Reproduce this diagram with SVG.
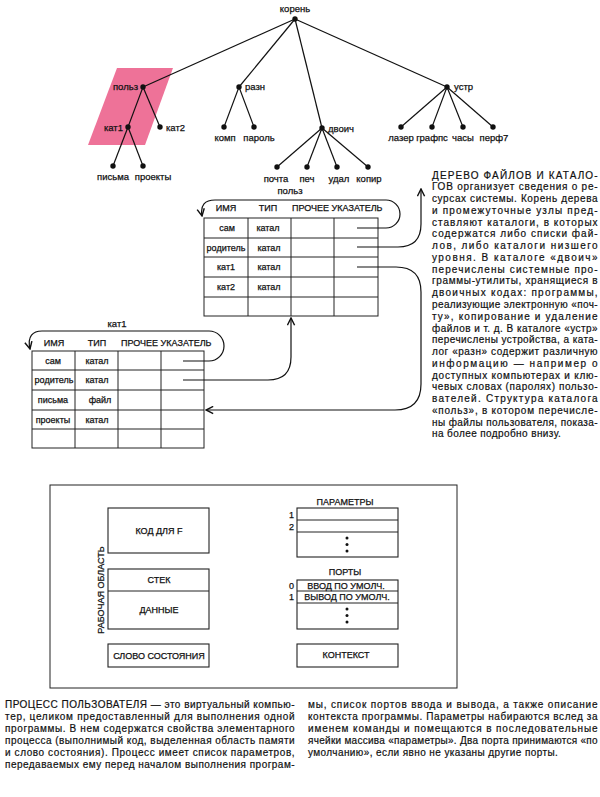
<svg xmlns="http://www.w3.org/2000/svg" width="600" height="797" viewBox="0 0 600 797">
<style>
.t{font-family:"Liberation Sans",Arial,sans-serif;font-size:9.5px;fill:#111;stroke:#111;stroke-width:0.25}
.s{font-size:9px}
.m{text-anchor:middle}
.e{text-anchor:end}
.b{font-family:"Liberation Sans",Arial,sans-serif;font-size:10px;letter-spacing:0.4px;fill:#111;stroke:#111;stroke-width:0.2}
.ln{stroke:#111;stroke-width:1.2;fill:none}
.tb{stroke:#222;stroke-width:1;fill:none}
.bx{stroke:#222;stroke-width:1.1;fill:#fff}
.dot{fill:#111}
</style>
<defs>
<marker id="arr" viewBox="0 0 10 10" refX="9" refY="5" markerWidth="9" markerHeight="9" markerUnits="userSpaceOnUse" orient="auto">
<path d="M1,1 L9,5 L1,9" fill="none" stroke="#111" stroke-width="1.6"/>
</marker>
</defs>
<rect width="600" height="797" fill="#fff"/>

<!-- highlight -->
<polygon points="117,68 173,68 145,145 88,145" fill="#ee7298"/>

<!-- tree connectors -->
<g id="tree-edges" class="ln">
<line x1="295" y1="19" x2="143" y2="87"/>
<line x1="295" y1="19" x2="239" y2="87"/>
<line x1="295" y1="19" x2="322" y2="128"/>
<line x1="295" y1="19" x2="447" y2="87"/>
<line x1="143" y1="87" x2="128" y2="127"/>
<line x1="143" y1="87" x2="160" y2="127"/>
<line x1="128" y1="127" x2="113" y2="166"/>
<line x1="128" y1="127" x2="143" y2="166"/>
<line x1="239" y1="87" x2="224" y2="127"/>
<line x1="239" y1="87" x2="254" y2="127"/>
<line x1="322" y1="128" x2="277" y2="167"/>
<line x1="322" y1="128" x2="307" y2="167"/>
<line x1="322" y1="128" x2="337" y2="167"/>
<line x1="322" y1="128" x2="368" y2="167"/>
<line x1="447" y1="87" x2="401" y2="127"/>
<line x1="447" y1="87" x2="432" y2="127"/>
<line x1="447" y1="87" x2="463" y2="127"/>
<line x1="447" y1="87" x2="493" y2="127"/>
</g>

<g id="n-root"><circle class="dot" cx="295" cy="19" r="2.7"/><text class="t m" x="295" y="12">корень</text></g>
<g id="n-polz"><circle class="dot" cx="143" cy="87" r="2.7"/><text class="t e" x="138" y="90">польз</text></g>
<g id="n-razn"><circle class="dot" cx="239" cy="87" r="2.7"/><text class="t" x="245" y="90">разн</text></g>
<g id="n-ustr"><circle class="dot" cx="447" cy="87" r="2.7"/><text class="t" x="454" y="90">устр</text></g>
<g id="n-kat1"><circle class="dot" cx="128" cy="127" r="2.7"/><text class="t e" x="123" y="131">кат1</text></g>
<g id="n-kat2"><circle class="dot" cx="160" cy="127" r="2.7"/><text class="t" x="166" y="131">кат2</text></g>
<g id="n-komp"><circle class="dot" cx="224" cy="127" r="2.7"/><text class="t m" x="225" y="141">комп</text></g>
<g id="n-parol"><circle class="dot" cx="254" cy="127" r="2.7"/><text class="t m" x="259" y="141">пароль</text></g>
<g id="n-dvoich"><circle class="dot" cx="322" cy="128" r="2.7"/><text class="t" x="328" y="132">двоич</text></g>
<g id="n-lazer"><circle class="dot" cx="401" cy="127" r="2.7"/><text class="t m" x="401" y="141">лазер</text></g>
<g id="n-grafps"><circle class="dot" cx="432" cy="127" r="2.7"/><text class="t m" x="432" y="141">графпс</text></g>
<g id="n-chasy"><circle class="dot" cx="463" cy="127" r="2.7"/><text class="t m" x="463" y="141">часы</text></g>
<g id="n-perf7"><circle class="dot" cx="493" cy="127" r="2.7"/><text class="t m" x="494" y="141">перф7</text></g>
<g id="n-pisma"><circle class="dot" cx="113" cy="166" r="2.7"/><text class="t m" x="113" y="180">письма</text></g>
<g id="n-proekty"><circle class="dot" cx="143" cy="166" r="2.7"/><text class="t m" x="153" y="180">проекты</text></g>
<g id="n-pochta"><circle class="dot" cx="277" cy="167" r="2.7"/><text class="t m" x="276" y="182">почта</text></g>
<g id="n-pech"><circle class="dot" cx="307" cy="167" r="2.7"/><text class="t m" x="307" y="182">печ</text></g>
<g id="n-udal"><circle class="dot" cx="337" cy="167" r="2.7"/><text class="t m" x="339" y="182">удал</text></g>
<g id="n-kopir"><circle class="dot" cx="368" cy="167" r="2.7"/><text class="t m" x="369" y="182">копир</text></g>

<!-- table польз -->
<g id="table-polz">
<text class="t m" x="290" y="194">польз</text>
<rect class="tb" x="204" y="218" width="174" height="98"/>
<path class="tb" d="M204,238 H378 M204,257 H378 M204,277 H378 M204,297 H378 M248,218 V316 M291,218 V316 M334,218 V316"/>
<text class="t s m" x="226" y="211">ИМЯ</text>
<text class="t s m" x="268" y="211">ТИП</text>
<text class="t s" x="292" y="211">ПРОЧЕЕ УКАЗАТЕЛЬ</text>
<text class="t s m" x="227" y="231">сам</text>
<text class="t s m" x="268" y="231">катал</text>
<text class="t s m" x="226" y="251">родитель</text>
<text class="t s m" x="269" y="251">катал</text>
<text class="t s m" x="226" y="270">кат1</text>
<text class="t s m" x="269" y="270">катал</text>
<text class="t s m" x="226" y="290">кат2</text>
<text class="t s m" x="269" y="290">катал</text>
</g>

<!-- table кат1 -->
<g id="table-kat1">
<text class="t m" x="117" y="327">кат1</text>
<rect class="tb" x="32" y="351" width="172" height="97"/>
<path class="tb" d="M32,370 H204 M32,390 H204 M32,410 H204 M32,429 H204 M75,351 V448 M118,351 V448 M161,351 V448"/>
<text class="t s m" x="54" y="346">ИМЯ</text>
<text class="t s m" x="97" y="346">ТИП</text>
<text class="t s" x="121" y="346">ПРОЧЕЕ УКАЗАТЕЛЬ</text>
<text class="t s m" x="53" y="364">сам</text>
<text class="t s m" x="97" y="364">катал</text>
<text class="t s m" x="54" y="383">родитель</text>
<text class="t s m" x="97" y="383">катал</text>
<text class="t s m" x="53" y="403">письма</text>
<text class="t s m" x="100" y="403">файл</text>
<text class="t s m" x="53" y="423">проекты</text>
<text class="t s m" x="97" y="423">катал</text>
</g>

<!-- pointers -->
<g id="pointers" class="ln">
<path d="M357,228 H386 A14,14 0 0 0 386,200 H215 C205,200 200,205 202,216" marker-end="url(#arr)"/>
<path d="M357,247 H398 Q421,247 421,224 V189" marker-end="url(#arr)"/>
<path d="M357,267 H396 Q421,267 421,292 V384 Q421,410 395,410 H206" marker-end="url(#arr)"/>
<path d="M183,361 H209 A15,15 0 0 0 209,331 H42 C33,331 27,336 30,349" marker-end="url(#arr)"/>
<path d="M183,380 H268 Q291,380 291,357 V318" marker-end="url(#arr)"/>
</g>

<!-- right text -->
<g id="text-tree" class="b">
<text x="432" y="178.5" textLength="166" lengthAdjust="spacing">ДЕРЕВО ФАЙЛОВ И КАТАЛО-</text>
<text x="432" y="190.3" textLength="166" lengthAdjust="spacing">ГОВ организует сведения о ре-</text>
<text x="432" y="202" textLength="166" lengthAdjust="spacing">сурсах системы. Корень дерева</text>
<text x="432" y="213.8" textLength="166" lengthAdjust="spacing">и промежуточные узлы пред-</text>
<text x="432" y="225.6" textLength="166" lengthAdjust="spacing">ставляют каталоги, в которых</text>
<text x="432" y="237.4" textLength="166" lengthAdjust="spacing">содержатся либо списки фай-</text>
<text x="432" y="249.1" textLength="166" lengthAdjust="spacing">лов, либо каталоги низшего</text>
<text x="432" y="260.9" textLength="166" lengthAdjust="spacing">уровня. В каталоге «двоич»</text>
<text x="432" y="272.7" textLength="166" lengthAdjust="spacing">перечислены системные про-</text>
<text x="432" y="284.4" textLength="166" lengthAdjust="spacing">граммы-утилиты, хранящиеся в</text>
<text x="432" y="296.2" textLength="166" lengthAdjust="spacing">двоичных кодах: программы,</text>
<text x="432" y="308" textLength="166" lengthAdjust="spacing">реализующие электронную «поч-</text>
<text x="432" y="319.7" textLength="166" lengthAdjust="spacing">ту», копирование и удаление</text>
<text x="432" y="331.5" textLength="166" lengthAdjust="spacing">файлов и т. д. В каталоге «устр»</text>
<text x="432" y="343.3" textLength="166" lengthAdjust="spacing">перечислены устройства, а ката-</text>
<text x="432" y="355.1" textLength="166" lengthAdjust="spacing">лог «разн» содержит различную</text>
<text x="432" y="366.8" textLength="166" lengthAdjust="spacing">информацию — например    о</text>
<text x="432" y="378.6" textLength="166" lengthAdjust="spacing">доступных компьютерах и клю-</text>
<text x="432" y="390.4" textLength="166" lengthAdjust="spacing">чевых словах (паролях) пользо-</text>
<text x="432" y="402.1" textLength="166" lengthAdjust="spacing">вателей. Структура каталога</text>
<text x="432" y="413.9" textLength="166" lengthAdjust="spacing">«польз», в котором перечисле-</text>
<text x="432" y="425.7" textLength="166" lengthAdjust="spacing">ны файлы пользователя, показа-</text>
<text x="432" y="437.4">на более подробно внизу.</text>
</g>

<!-- process diagram -->
<g id="process">
<rect class="tb" x="50" y="485" width="407" height="203" stroke-width="1.2"/>
</g>
<g id="kod"><rect class="bx" x="108" y="508" width="101" height="45"/><text class="t s m" x="159" y="534">КОД ДЛЯ F</text></g>
<g id="stek"><rect class="bx" x="108" y="569" width="101" height="60"/><line class="tb" x1="108" y1="591" x2="209" y2="591"/><text class="t s m" x="159" y="583">СТЕК</text><text class="t s m" x="159" y="613">ДАННЫЕ</text></g>
<g id="rabobl"><text class="t s m" transform="translate(104,590) rotate(-90)">РАБОЧАЯ ОБЛАСТЬ</text></g>
<g id="slovo"><rect class="bx" x="108" y="644" width="101" height="23"/><text class="t s m" x="159" y="659">СЛОВО СОСТОЯНИЯ</text></g>
<g id="params">
<text class="t s m" x="345" y="505">ПАРАМЕТРЫ</text>
<rect class="bx" x="297" y="508" width="101" height="49"/>
<line class="tb" x1="297" y1="520" x2="398" y2="520"/><line class="tb" x1="297" y1="532" x2="398" y2="532"/>
<text class="t s e" x="294" y="518">1</text><text class="t s e" x="294" y="530">2</text>
<circle class="dot" cx="347" cy="538" r="1.5"/><circle class="dot" cx="347" cy="544.5" r="1.5"/><circle class="dot" cx="347" cy="551" r="1.5"/>
</g>
<g id="ports">
<text class="t s m" x="345" y="575">ПОРТЫ</text>
<rect class="bx" x="297" y="580" width="101" height="49"/>
<line class="tb" x1="297" y1="591" x2="398" y2="591"/><line class="tb" x1="297" y1="603" x2="398" y2="603"/>
<text class="t s e" x="294" y="589">0</text><text class="t s e" x="294" y="600">1</text>
<text class="t s m" x="346" y="589">ВВОД ПО УМОЛЧ.</text>
<text class="t s m" x="347" y="600">ВЫВОД ПО УМОЛЧ.</text>
<circle class="dot" cx="347" cy="609" r="1.5"/><circle class="dot" cx="347" cy="615.5" r="1.5"/><circle class="dot" cx="347" cy="622" r="1.5"/>
</g>
<g id="kontekst"><rect class="bx" x="297" y="644" width="101" height="23"/><text class="t s m" x="346" y="658">КОНТЕКСТ</text></g>

<!-- bottom text -->
<g id="text-process" class="b">
<text x="5" y="707.5" textLength="290" lengthAdjust="spacing">ПРОЦЕСС ПОЛЬЗОВАТЕЛЯ — это виртуальный компью-</text>
<text x="5" y="719.5" textLength="290" lengthAdjust="spacing">тер, целиком предоставленный для выполнения одной</text>
<text x="5" y="731.5" textLength="290" lengthAdjust="spacing">программы. В нем содержатся свойства элементарного</text>
<text x="5" y="743.5" textLength="290" lengthAdjust="spacing">процесса (выполнимый код, выделенная область памяти</text>
<text x="5" y="755.5" textLength="290" lengthAdjust="spacing">и слово состояния). Процесс имеет список параметров,</text>
<text x="5" y="767.5" textLength="290" lengthAdjust="spacing">передаваемых ему перед началом выполнения програм-</text>
<text x="308" y="707.5" textLength="290" lengthAdjust="spacing">мы, список портов ввода и вывода, а также описание</text>
<text x="308" y="719.5" textLength="290" lengthAdjust="spacing">контекста программы. Параметры набираются вслед за</text>
<text x="308" y="731.5" textLength="290" lengthAdjust="spacing">именем команды и помещаются в последовательные</text>
<text x="308" y="743.5" textLength="290" lengthAdjust="spacing">ячейки массива «параметры». Два порта принимаются «по</text>
<text x="308" y="755.5">умолчанию», если явно не указаны другие порты.</text>
</g>
</svg>
